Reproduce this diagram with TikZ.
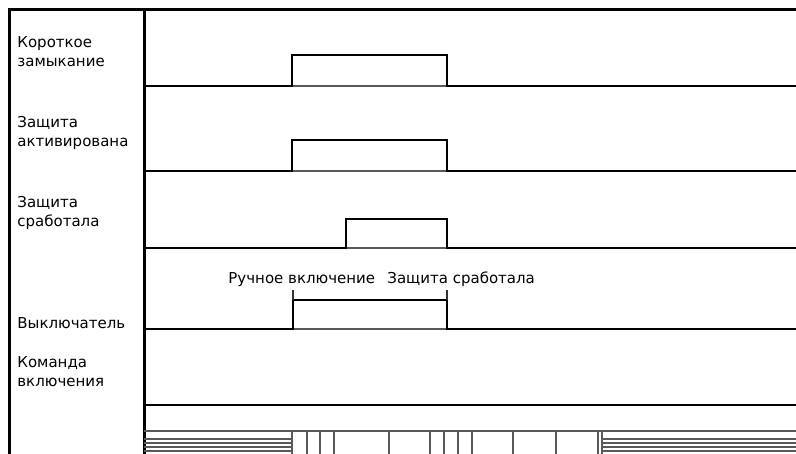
\documentclass[tikz,border=0pt]{standalone}
\usepackage{fontspec}
\setmainfont{DejaVu Sans}
\usepackage{tikz}
\usetikzlibrary{positioning}

\begin{document}
\begin{tikzpicture}[
        x=0.5pt, y=-0.5pt,
        rowlabel/.style={anchor=base west, align=left, inner sep=0pt, font=\fontsize{7.5}{9.5}\selectfont},
        frame/.style={line width=1.5pt, draw=black},
        wave/.style={line width=1.4pt, draw=black, line join=miter},
        guide/.style={line width=0.6pt, draw=black!65},
        tick/.style={line width=0.6pt, draw=black!80}
    ]
    \useasboundingbox (0,0) rectangle (796,454);

    % frame and columns
    \draw [frame] (9,454) -- (9,10) -- (796,10);
    \draw [frame] (144,10) -- (144,454);

    % row labels
    \node (short) at (17,67) [rowlabel] {Короткое\\замыкание};
    \node (active) at (17,147) [rowlabel] {Защита\\активирована};
    \node (tripped) at (17,227) [rowlabel] {Защита\\сработала};
    \node (breaker) at (17,328) [rowlabel] {Выключатель};
    \node (close) at (17,386) [rowlabel] {Команда\\включения};

    % signals
    \draw [guide] (144,86) -- (796,86);
    \draw [wave] (144,86) -- (292,86) -- (292,55) -- (447,55) -- (447,86) -- (796,86);

    \draw [guide] (144,171) -- (796,171);
    \draw [wave] (144,171) -- (292,171) -- (292,140) -- (447,140) -- (447,171) -- (796,171);

    \draw [guide] (144,248) -- (796,248);
    \draw [wave] (144,248) -- (346,248) -- (346,219) -- (447,219) -- (447,248) -- (796,248);

    \draw [guide] (144,329) -- (796,329);
    \draw [wave] (144,329) -- (293,329) -- (293,300) -- (447,300) -- (447,329) -- (796,329);
    \draw [tick] (293,290) -- (293,300);
    \draw [tick] (447,290) -- (447,300);
    \node (manual) at (228,283) [rowlabel] {Ручное включение};
    \node (protect) at (387,283) [rowlabel] {Защита сработала};

    \draw [wave] (144,405) -- (796,405);

    % time scale
    \draw [guide] (144,431) -- (796,431);
    \foreach \y in {439,443,447,451} {
        \draw [guide] (144,\y) -- (292,\y);
        \draw [guide] (602,\y) -- (796,\y);
    }
    \foreach \x in {292,307,320,334,389,430,444,458,472,513,556,598,602}
        \draw [guide] (\x,431) -- (\x,454);

\end{tikzpicture}
\end{document}
